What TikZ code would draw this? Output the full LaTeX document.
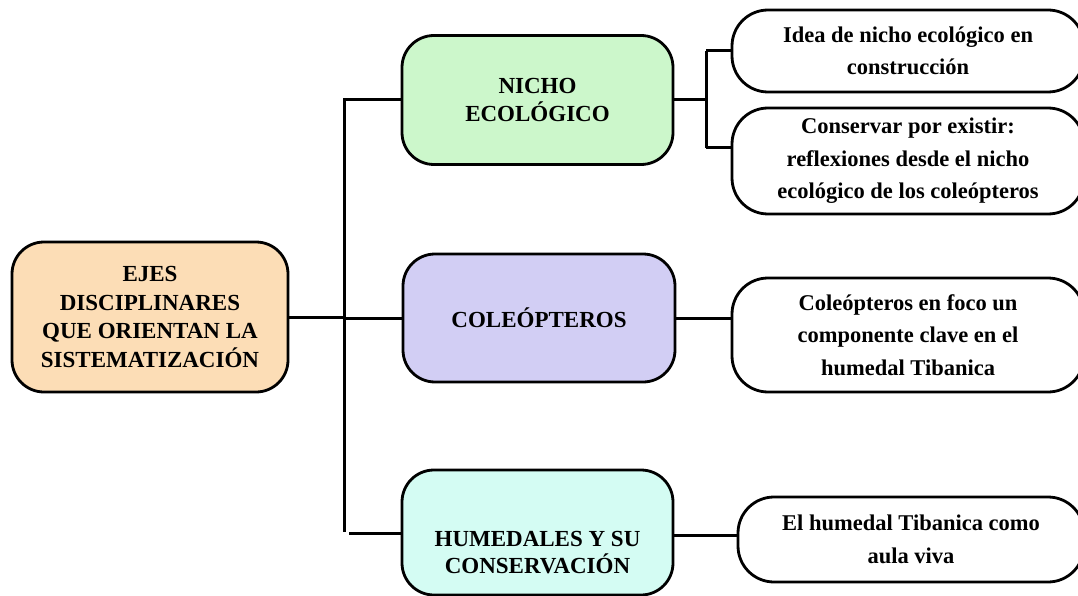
\documentclass[tikz,border=0pt]{standalone}
\usepackage{fontspec}
\setmainfont{Liberation Serif}
\definecolor{peach}{RGB}{252,221,182}
\definecolor{mint}{RGB}{204,247,203}
\definecolor{lav}{RGB}{210,206,244}
\definecolor{aqua}{RGB}{212,252,243}
\begin{document}
\begin{tikzpicture}[x=1pt,y=-1pt,
  base/.style={draw=black, line width=2.8pt, align=center, inner sep=0pt},
  mainbox/.style={base, rounded corners=32pt, font=\bfseries\fontsize{23}{28.5}\selectfont},
  leafbox/.style={base, fill=white, rounded corners=36pt, font=\bfseries\fontsize{22.5}{32.5}\selectfont},
  link/.style={draw=black, line width=3pt}]
\useasboundingbox (0,0) rectangle (1078,596);

% main nodes
\node[mainbox, fill=peach, minimum width=276pt, minimum height=150pt] (root) at (150,317)
  {EJES\\DISCIPLINARES\\QUE ORIENTAN LA\\SISTEMATIZACIÓN};
\node[mainbox, fill=mint, minimum width=271pt, minimum height=129pt] (nicho) at (537.5,100)
  {NICHO\\ECOLÓGICO};
\node[mainbox, fill=lav, minimum width=272pt, minimum height=128pt] (cole) at (539,318)
  {COLEÓPTEROS};
\node[mainbox, fill=aqua, minimum width=271pt, minimum height=125pt,
  label={[font=\bfseries\fontsize{23}{27}\selectfont, align=center, yshift=-20pt]center:HUMEDALES Y SU\\CONSERVACIÓN}] (hum) at (537.5,532.5) {};

% leaf nodes
\node[leafbox, minimum width=352pt, minimum height=82pt] (r1) at (908,51)
  {Idea de nicho ecológico en\\construcción};
\node[leafbox, minimum width=352pt, minimum height=106pt] (r2) at (908,161)
  {Conservar por existir:\\reflexiones desde el nicho\\ecológico de los coleópteros};
\node[leafbox, minimum width=352pt, minimum height=114pt] (r3) at (908,335)
  {Coleópteros en foco un\\componente clave en el\\humedal Tibanica};
\node[leafbox, minimum width=346pt, minimum height=85pt] (r4) at (911,539.5)
  {El humedal Tibanica como\\aula viva};

% connector coordinates
\coordinate (ttop) at (344,98.5);
\coordinate (tbot) at (344,532);
\coordinate (tmid) at (344,317);
\coordinate (hin) at (349,533);
\coordinate (bk1) at (706,51);
\coordinate (bk2) at (706,148);
\coordinate (r2in) at (732,148);
\coordinate (h4) at (673,535);
\coordinate (r4in) at (738,535);

\draw[link] (root.east) -- (tmid);
\draw[link] (ttop) -- (tbot);
\draw[link] (ttop |- nicho.west) -- (nicho.west);
\draw[link] (tmid |- cole.west) -- (cole.west);
\draw[link] (hin) -- (hin -| hum.west);

\draw[link] (nicho.east) -- (nicho.east -| bk1);
\draw[link] (bk1) -- (bk2);
\draw[link] (bk1) -- (bk1 -| r1.west);
\draw[link] (bk2) -- (r2in);
\draw[link] (cole.east) -- (cole.east -| r3.west);
\draw[link] (h4) -- (r4in);
\end{tikzpicture}
\end{document}
